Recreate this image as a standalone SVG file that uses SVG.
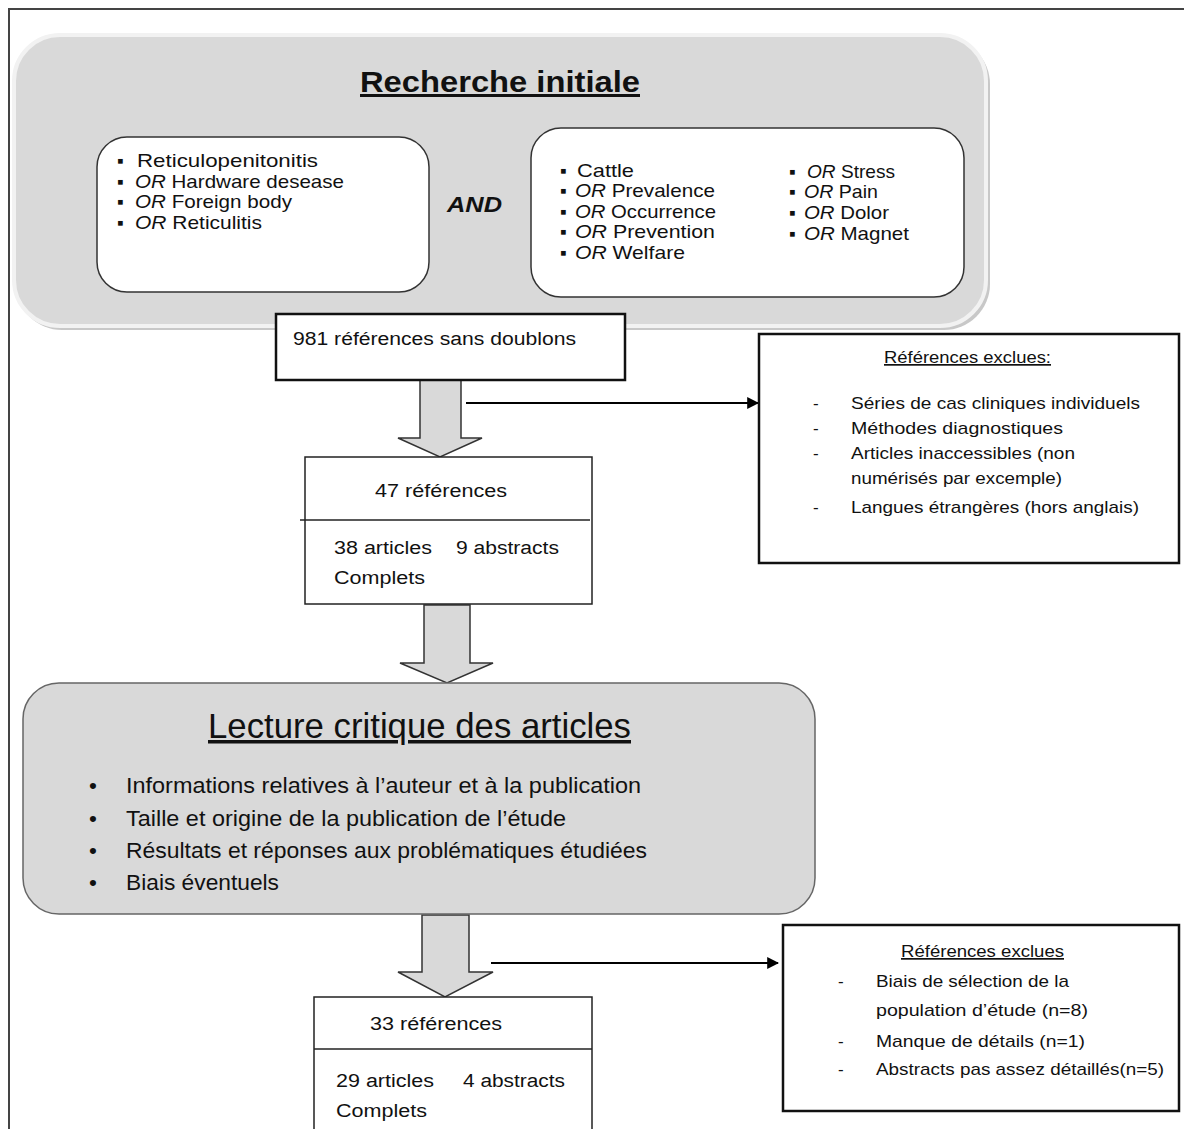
<svg xmlns="http://www.w3.org/2000/svg" width="1184" height="1129" viewBox="0 0 1184 1129">
<style>
text{font-family:"Liberation Sans",Arial,sans-serif;fill:#111}
.s{font-size:18px}
.m{font-size:17px}
.l{font-size:19px}
.b{font-size:22.5px}
.it{font-style:italic}
.box{fill:#fff;stroke:#111;stroke-width:2.5}
.thin{fill:#fff;stroke:#222;stroke-width:1.5}
.inner{fill:#fff;stroke:#333;stroke-width:1.5}
.big{fill:#d9d9d9}
.arrow{fill:#d9d9d9;stroke:#333;stroke-width:1.5;stroke-linejoin:miter}
.conn{stroke:#000;stroke-width:2;fill:none}
</style>
<defs>
<marker id="ah" viewBox="0 0 10 10" refX="9" refY="5" markerWidth="6" markerHeight="6" orient="auto" markerUnits="strokeWidth">
<path d="M0,0 L10,5 L0,10 z" fill="#000"/>
</marker>
</defs>
<rect width="1184" height="1129" fill="#fff"/>
<g id="frame">
<path d="M9,1129 L9,9 L1184,9" fill="none" stroke="#444" stroke-width="2"/>
</g>

<g id="recherche">
<rect x="16" y="38" width="974" height="292" rx="46" fill="#c8c8c8"/>
<rect x="14" y="35" width="972" height="291" rx="46" class="big" stroke="#f2f2f2" stroke-width="4"/>
<text x="500" y="92" text-anchor="middle" font-weight="bold" font-size="30" text-decoration="underline" textLength="280" lengthAdjust="spacingAndGlyphs">Recherche initiale</text>
</g>

<g id="termes1">
<rect x="97" y="137" width="332" height="155" rx="30" class="inner"/>
<text class="l" x="117" y="167">▪</text>
<text class="l" x="137" y="167" textLength="181" lengthAdjust="spacingAndGlyphs">Reticulopenitonitis</text>
<text class="l" x="117" y="188">▪</text>
<text class="l" x="135" y="188" textLength="209" lengthAdjust="spacingAndGlyphs"><tspan class="it">OR</tspan> Hardware desease</text>
<text class="l" x="117" y="208">▪</text>
<text class="l" x="135" y="208" textLength="157" lengthAdjust="spacingAndGlyphs"><tspan class="it">OR</tspan> Foreign body</text>
<text class="l" x="117" y="229">▪</text>
<text class="l" x="135" y="229" textLength="127" lengthAdjust="spacingAndGlyphs"><tspan class="it">OR</tspan> Reticulitis</text>
</g>

<g id="and">
<text x="447" y="212" font-size="22" font-weight="bold" font-style="italic" textLength="55" lengthAdjust="spacingAndGlyphs">AND</text>
</g>

<g id="termes2">
<rect x="531" y="128" width="433" height="169" rx="30" class="inner"/>
<text class="l" x="560" y="177">▪</text>
<text class="l" x="577" y="177" textLength="57" lengthAdjust="spacingAndGlyphs">Cattle</text>
<text class="l" x="560" y="197">▪</text>
<text class="l" x="575" y="197" textLength="140" lengthAdjust="spacingAndGlyphs"><tspan class="it">OR</tspan> Prevalence</text>
<text class="l" x="560" y="218">▪</text>
<text class="l" x="575" y="218" textLength="141" lengthAdjust="spacingAndGlyphs"><tspan class="it">OR</tspan> Occurrence</text>
<text class="l" x="560" y="238">▪</text>
<text class="l" x="575" y="238" textLength="140" lengthAdjust="spacingAndGlyphs"><tspan class="it">OR</tspan> Prevention</text>
<text class="l" x="560" y="259">▪</text>
<text class="l" x="575" y="259" textLength="110" lengthAdjust="spacingAndGlyphs"><tspan class="it">OR</tspan> Welfare</text>
<text class="l" x="789" y="178">▪</text>
<text class="l" x="807" y="178" textLength="88" lengthAdjust="spacingAndGlyphs"><tspan class="it">OR</tspan> Stress</text>
<text class="l" x="789" y="198">▪</text>
<text class="l" x="804" y="198" textLength="74" lengthAdjust="spacingAndGlyphs"><tspan class="it">OR</tspan> Pain</text>
<text class="l" x="789" y="219">▪</text>
<text class="l" x="804" y="219" textLength="85" lengthAdjust="spacingAndGlyphs"><tspan class="it">OR</tspan> Dolor</text>
<text class="l" x="789" y="240">▪</text>
<text class="l" x="804" y="240" textLength="105" lengthAdjust="spacingAndGlyphs"><tspan class="it">OR</tspan> Magnet</text>
</g>

<g id="connectors">
<path class="arrow" d="M420,380 L461,380 L461,438 L482,438 L440,457 L398,438 L420,438 Z"/>
<line class="conn" x1="466" y1="403" x2="758" y2="403" marker-end="url(#ah)"/>
<path class="arrow" d="M424,605 L470,605 L470,663 L493,663 L447,683 L400,663 L424,663 Z"/>
<path class="arrow" d="M422,915 L469,915 L469,972 L493,972 L445,997 L398,972 L422,972 Z"/>
<line class="conn" x1="491" y1="963" x2="778" y2="963" marker-end="url(#ah)"/>
</g>

<g id="ref981">
<rect x="276" y="314" width="349" height="66" class="box"/>
<text class="s" x="293" y="345" textLength="283" lengthAdjust="spacingAndGlyphs">981  références sans doublons</text>
</g>

<g id="ref47">
<rect x="305" y="457" width="287" height="147" class="thin"/>
<line x1="300" y1="520" x2="590" y2="520" stroke="#222" stroke-width="1.5"/>
<text class="s" x="375" y="497" textLength="132" lengthAdjust="spacingAndGlyphs">47 références</text>
<text class="s" x="334" y="554" textLength="98" lengthAdjust="spacingAndGlyphs">38 articles</text>
<text class="s" x="456" y="554" textLength="103" lengthAdjust="spacingAndGlyphs">9 abstracts</text>
<text class="s" x="334" y="584" textLength="91" lengthAdjust="spacingAndGlyphs">Complets</text>
</g>

<g id="exclues1">
<rect x="759" y="334" width="420" height="229" class="box"/>
<text class="m" x="884" y="363" text-decoration="underline" textLength="167" lengthAdjust="spacingAndGlyphs">Références exclues:</text>
<text class="m" x="813" y="409">-</text>
<text class="m" x="851" y="409" textLength="289" lengthAdjust="spacingAndGlyphs">Séries de cas cliniques individuels</text>
<text class="m" x="813" y="434">-</text>
<text class="m" x="851" y="434" textLength="212" lengthAdjust="spacingAndGlyphs">Méthodes diagnostiques</text>
<text class="m" x="813" y="459">-</text>
<text class="m" x="851" y="459" textLength="224" lengthAdjust="spacingAndGlyphs">Articles inaccessibles (non</text>
<text class="m" x="851" y="484" textLength="211" lengthAdjust="spacingAndGlyphs">numérisés par excemple)</text>
<text class="m" x="813" y="513">-</text>
<text class="m" x="851" y="513" textLength="288" lengthAdjust="spacingAndGlyphs">Langues étrangères (hors anglais)</text>
</g>

<g id="lecture">
<rect x="23" y="683" width="792" height="231" rx="36" class="big" stroke="#666" stroke-width="1.5"/>
<text x="208" y="738" font-size="35" text-decoration="underline" textLength="423" lengthAdjust="spacingAndGlyphs">Lecture critique des articles</text>
<text class="b" x="89" y="793">•</text>
<text class="b" x="126" y="793" textLength="515" lengthAdjust="spacingAndGlyphs">Informations  relatives à l’auteur et à la publication</text>
<text class="b" x="89" y="826">•</text>
<text class="b" x="126" y="826" textLength="440" lengthAdjust="spacingAndGlyphs">Taille et origine de la publication de l’étude</text>
<text class="b" x="89" y="858">•</text>
<text class="b" x="126" y="858" textLength="521" lengthAdjust="spacingAndGlyphs">Résultats et réponses aux problématiques étudiées</text>
<text class="b" x="89" y="890">•</text>
<text class="b" x="126" y="890" textLength="153" lengthAdjust="spacingAndGlyphs">Biais éventuels</text>
</g>

<g id="ref33">
<rect x="314" y="997" width="278" height="140" class="thin"/>
<line x1="314" y1="1049" x2="592" y2="1049" stroke="#222" stroke-width="1.5"/>
<text class="s" x="370" y="1030" textLength="132" lengthAdjust="spacingAndGlyphs">33 références</text>
<text class="s" x="336" y="1087" textLength="98" lengthAdjust="spacingAndGlyphs">29 articles</text>
<text class="s" x="463" y="1087" textLength="102" lengthAdjust="spacingAndGlyphs">4 abstracts</text>
<text class="s" x="336" y="1117" textLength="91" lengthAdjust="spacingAndGlyphs">Complets</text>
</g>

<g id="exclues2">
<rect x="783" y="925" width="396" height="186" class="box"/>
<text class="m" x="901" y="957" text-decoration="underline" textLength="163" lengthAdjust="spacingAndGlyphs">Références exclues</text>
<text class="m" x="838" y="987">-</text>
<text class="m" x="876" y="987" textLength="193" lengthAdjust="spacingAndGlyphs">Biais de sélection de la</text>
<text class="m" x="876" y="1016" textLength="212" lengthAdjust="spacingAndGlyphs">population d’étude (n=8)</text>
<text class="m" x="838" y="1047">-</text>
<text class="m" x="876" y="1047" textLength="209" lengthAdjust="spacingAndGlyphs">Manque de détails (n=1)</text>
<text class="m" x="838" y="1075">-</text>
<text class="m" x="876" y="1075" textLength="288" lengthAdjust="spacingAndGlyphs">Abstracts pas assez détaillés(n=5)</text>
</g>
</svg>
